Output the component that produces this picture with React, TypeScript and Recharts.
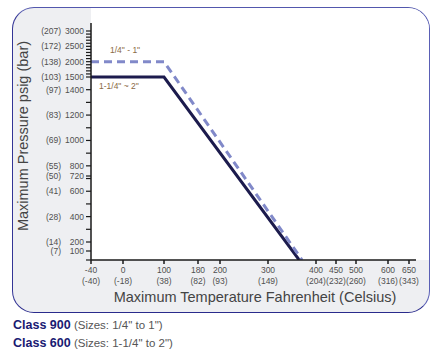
import React from 'react';
import { LineChart, Line, XAxis, YAxis } from 'recharts';

// ---- tick labels ----
const X_TICKS_F = [-40, 0, 100, 180, 200, 300, 400, 450, 500, 600, 650];
const X_TICKS_C = [-40, -18, 38, 82, 93, 149, 204, 232, 260, 316, 343];
const Y_TICKS_PSI = [100, 200, 400, 600, 720, 800, 1000, 1200, 1400, 1500, 2000, 2500, 3000];
const Y_TICKS_BAR = [7, 14, 28, 41, 50, 55, 69, 83, 97, 103, 138, 172, 207];
const Y_MINOR_PSI = [0, 300, 500, 700, 900, 1100, 1300, 1600, 1700, 1800, 1900, 2100, 2200, 2300, 2400, 2600, 2700, 2800, 2900];

// ---- series ----
const CLASS600_TEMP_F = [-40, 100, 365];
const CLASS600_PSI = [1500, 1500, 0];
const CLASS900_TEMP_F = [-40, 100, 371];
const CLASS900_PSI = [2000, 2000, 0];

// ---- non-uniform (hand-drawn) axis scales: value -> axis offset ----
const X_SCALE_F = [-40, 0, 100, 180, 200, 300, 400, 450, 500, 600, 650, 667];
const X_SCALE_POS = [0, 32, 73, 107, 129, 177, 225, 245, 265, 297, 318, 325];
const Y_SCALE_PSI = [0, 200, 1500, 3000, 3250];
const Y_SCALE_POS = [0, 18, 183, 229, 237];

function interp(v: number, xs: number[], ys: number[]): number {
  const n = xs.length;
  if (v <= xs[0]) return ys[0] + ((v - xs[0]) * (ys[1] - ys[0])) / (xs[1] - xs[0]);
  for (let i = 1; i < n; i++) {
    if (v <= xs[i]) {
      const t = (v - xs[i - 1]) / (xs[i] - xs[i - 1]);
      return ys[i - 1] + t * (ys[i] - ys[i - 1]);
    }
  }
  return ys[n - 1] + ((v - xs[n - 1]) * (ys[n - 1] - ys[n - 2])) / (xs[n - 1] - xs[n - 2]);
}
const fx = (f: number) => interp(f, X_SCALE_F, X_SCALE_POS);
const fy = (p: number) => interp(p, Y_SCALE_PSI, Y_SCALE_POS);

const data600 = CLASS600_TEMP_F.map((t, i) => ({ x: fx(t), y: fy(CLASS600_PSI[i]) }));
const data900 = CLASS900_TEMP_F.map((t, i) => ({ x: fx(t), y: fy(CLASS900_PSI[i]) }));

const xTickPos = X_TICKS_F.map(fx);
const yMajorPos = Y_TICKS_PSI.map(fy);
const yTickPos = [...yMajorPos, ...Y_MINOR_PSI.map(fy)].sort((a, b) => a - b);

const FONT = "'Liberation Sans', Arial, sans-serif";
const TICK_COLOR = '#505050';
const AXIS_COLOR = '#1a1a1a';

const XTick = (props: any) => {
  const { x, payload } = props;
  const i = xTickPos.findIndex((p) => Math.abs(p - payload.value) < 1e-6);
  if (i < 0) return <g />;
  return (
    <g>
      <text x={x} y={273} textAnchor="middle" fontSize={8.5} fill={TICK_COLOR} fontFamily={FONT}>
        {X_TICKS_F[i]}
      </text>
      <text x={x} y={284} textAnchor="middle" fontSize={8.5} fill={TICK_COLOR} fontFamily={FONT}>
        {`(${X_TICKS_C[i]})`}
      </text>
    </g>
  );
};

const YTick = (props: any) => {
  const { y, payload } = props;
  const i = yMajorPos.findIndex((p) => Math.abs(p - payload.value) < 1e-6);
  if (i < 0) return <g />;
  return (
    <g>
      <text x={84} y={y + 3} textAnchor="end" fontSize={8.5} fill={TICK_COLOR} fontFamily={FONT}>
        {Y_TICKS_PSI[i]}
      </text>
      <text x={61} y={y + 3} textAnchor="end" fontSize={8.5} fill={TICK_COLOR} fontFamily={FONT}>
        {`(${Y_TICKS_BAR[i]})`}
      </text>
    </g>
  );
};

const XTitle = () => (
  <text x={255} y={302} textAnchor="middle" fontSize={14.5} fill="#444" fontFamily={FONT}>
    Maximum Temperature Fahrenheit (Celsius)
  </text>
);

const YTitle = () => (
  <text
    x={0}
    y={0}
    transform="translate(28,136) rotate(-90)"
    textAnchor="middle"
    fontSize={14.5}
    fill="#444"
    fontFamily={FONT}
  >
    Maximum Pressure psig (bar)
  </text>
);

export default function App() {
  return (
    <div style={{ position: 'absolute', left: 0, top: 0, width: 442, height: 357, background: '#fff' }}>
      {/* panel */}
      <div
        style={{
          position: 'absolute',
          left: 12,
          top: 7,
          width: 418,
          height: 306,
          boxSizing: 'border-box',
          borderStyle: 'solid',
          borderWidth: 1.5,
          borderTopColor: '#5257ad',
          borderRightColor: '#5a5fb5',
          borderLeftColor: '#343596',
          borderBottomColor: '#2a2b8c',
          borderRadius: 22,
          background: '#eeeff2',
          overflow: 'hidden',
        }}
      >
        <div style={{ position: 'absolute', left: 77.5, top: 0, right: 0, height: 251.5, background: '#fff' }} />
      </div>
      <div style={{ position: 'absolute', left: 0, top: 0 }}>
        <LineChart width={442} height={357} margin={{ top: 23, right: 26, bottom: 0, left: 0 }}>
          <XAxis
            type="number"
            dataKey="x"
            domain={[0, 325]}
            ticks={xTickPos}
            interval={0}
            tick={<XTick />}
            tickSize={4}
            height={97}
            allowDataOverflow
            axisLine={{ stroke: AXIS_COLOR, strokeWidth: 1.5 }}
            tickLine={{ stroke: AXIS_COLOR, strokeWidth: 1.5 }}
            label={<XTitle />}
          />
          <YAxis
            type="number"
            dataKey="y"
            domain={[0, 237]}
            ticks={yTickPos}
            interval={0}
            tick={<YTick />}
            tickSize={5}
            width={91}
            allowDataOverflow
            axisLine={{ stroke: AXIS_COLOR, strokeWidth: 1.5 }}
            tickLine={{ stroke: AXIS_COLOR, strokeWidth: 1.2 }}
            label={<YTitle />}
          />
          <Line
            data={data600}
            dataKey="y"
            type="linear"
            stroke="#1c1b4d"
            strokeWidth={3}
            dot={false}
            isAnimationActive={false}
          />
          <Line
            data={data900}
            dataKey="y"
            type="linear"
            stroke="#8189c9"
            strokeWidth={3}
            strokeDasharray="8 5"
            dot={false}
            isAnimationActive={false}
          />
        </LineChart>
      </div>
      {/* line annotations */}
      <div
        style={{
          position: 'absolute',
          left: 110,
          top: 44,
          fontFamily: FONT,
          fontSize: 8.5,
          color: '#8a6a45',
          whiteSpace: 'nowrap',
          lineHeight: '12px',
        }}
      >
        1/4" - 1"
      </div>
      <div
        style={{
          position: 'absolute',
          left: 99,
          top: 80,
          fontFamily: FONT,
          fontSize: 8.5,
          color: '#8a6a45',
          whiteSpace: 'nowrap',
          lineHeight: '12px',
        }}
      >
        1-1/4" ~ 2"
      </div>
      {/* notes below the chart */}
      <div
        style={{
          position: 'absolute',
          left: 13,
          top: 318,
          fontFamily: FONT,
          fontSize: 11.5,
          color: '#555',
          whiteSpace: 'nowrap',
          lineHeight: '14px',
        }}
      >
        <span style={{ fontWeight: 'bold', color: '#1a1a72', fontSize: 12.5 }}>Class 900</span> (Sizes: 1/4" to 1")
      </div>
      <div
        style={{
          position: 'absolute',
          left: 13,
          top: 336,
          fontFamily: FONT,
          fontSize: 11.5,
          color: '#555',
          whiteSpace: 'nowrap',
          lineHeight: '14px',
        }}
      >
        <span style={{ fontWeight: 'bold', color: '#1a1a72', fontSize: 12.5 }}>Class 600</span> (Sizes: 1-1/4" to 2")
      </div>
    </div>
  );
}
